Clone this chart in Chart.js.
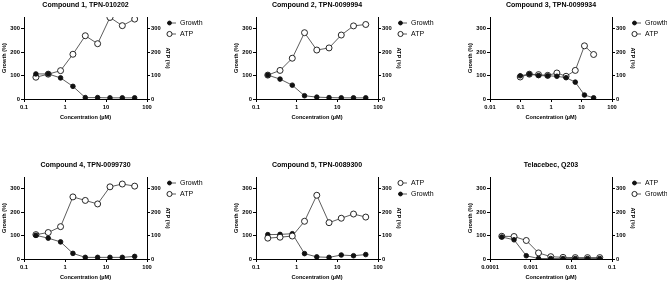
<!DOCTYPE html>
<html>
<head>
<meta charset="utf-8">
<script src="https://cdn.jsdelivr.net/npm/chart.js@4.4.0/dist/chart.umd.min.js"></script>
<style>
  html, body { margin: 0; padding: 0; background: #fff; }
  body { width: 667px; height: 281px; position: relative; overflow: hidden; }
  canvas { position: absolute; }
</style>
</head>
<body>
<canvas id="c1" width="222" height="121" style="left:0;top:0"></canvas>
<canvas id="c2" width="222" height="121" style="left:232px;top:0"></canvas>
<canvas id="c3" width="201" height="121" style="left:466px;top:0"></canvas>
<canvas id="c4" width="222" height="121" style="left:0;top:160px"></canvas>
<canvas id="c5" width="222" height="121" style="left:232px;top:160px"></canvas>
<canvas id="c6" width="201" height="121" style="left:466px;top:160px"></canvas>
<script>
// Concentrations (µM), 2-fold dilution series
const concA = [0.195, 0.39, 0.78, 1.56, 3.125, 6.25, 12.5, 25, 50];
const conc3 = [0.098, 0.195, 0.39, 0.78, 1.56, 3.125, 6.25, 12.5, 25];
const conc6 = [0.000195, 0.00039, 0.00078, 0.00156, 0.003125, 0.00625, 0.0125, 0.025, 0.05];

// Tick labels
const xTicksA = [0.1, 1, 10, 100];
const xTicks3 = [0.01, 0.1, 1, 10, 100];
const xTicks6 = [0.0001, 0.001, 0.01, 0.1];
const yTicks = [0, 100, 200, 300];

// Series values (%)
const growth1 = [107, 107, 90, 54, 6, 6, 5, 5, 5];
const atp1 = [93, 106, 121, 191, 270, 236, 348, 313, 341];
const growth2 = [102, 85, 59, 14, 8, 6, 5, 5, 5];
const atp2 = [102, 122, 174, 283, 209, 218, 273, 312, 318];
const growth3 = [99, 106, 100, 99, 97, 91, 72, 17, 5];
const atp3 = [94, 106, 104, 101, 111, 97, 122, 227, 190];
const growth4 = [101, 89, 73, 24, 7, 7, 7, 7, 11];
const atp4 = [104, 113, 138, 265, 250, 235, 308, 320, 311];
const atp5 = [89, 93, 98, 161, 272, 155, 174, 192, 179];
const growth5 = [104, 105, 108, 23, 9, 7, 17, 14, 19];
const atp6 = [94, 82, 14, 2, 2, 2, 2, 2, 2];
const growth6 = [97, 96, 79, 26, 10, 7, 6, 6, 6];

Chart.defaults.font.family = '"Liberation Sans", Arial, sans-serif';
Chart.defaults.color = '#000';

const panels = [
  { id: 'c1', title: 'Compound 1, TPN-010202', conc: concA, xTicks: xTicksA, padRight: 50,
    series: [{ label: 'Growth', values: growth1, filled: true }, { label: 'ATP', values: atp1, filled: false }] },
  { id: 'c2', title: 'Compound 2, TPN-0099994', conc: concA, xTicks: xTicksA, padRight: 51,
    series: [{ label: 'Growth', values: growth2, filled: true }, { label: 'ATP', values: atp2, filled: false }] },
  { id: 'c3', title: 'Compound 3, TPN-0099934', conc: conc3, xTicks: xTicks3, padRight: 30,
    series: [{ label: 'Growth', values: growth3, filled: true }, { label: 'ATP', values: atp3, filled: false }] },
  { id: 'c4', title: 'Compound 4, TPN-0099730', conc: concA, xTicks: xTicksA, padRight: 50,
    series: [{ label: 'Growth', values: growth4, filled: true }, { label: 'ATP', values: atp4, filled: false }] },
  { id: 'c5', title: 'Compound 5, TPN-0089300', conc: concA, xTicks: xTicksA, padRight: 51,
    series: [{ label: 'ATP', values: atp5, filled: false }, { label: 'Growth', values: growth5, filled: true }] },
  { id: 'c6', title: 'Telacebec, Q203', conc: conc6, xTicks: xTicks6, padRight: 30,
    series: [{ label: 'ATP', values: atp6, filled: true }, { label: 'Growth', values: growth6, filled: false }] }
];

// Legend drawn to the right of the plot, line with marker then label
const panelLegend = {
  id: 'panelLegend',
  afterDraw(chart) {
    const ctx = chart.ctx;
    const x0 = chart.chartArea.right + 20;
    ctx.save();
    ctx.font = '7px "Liberation Sans", Arial, sans-serif';
    ctx.textBaseline = 'middle';
    chart.data.datasets.forEach((ds, i) => {
      const y = 23 + i * 11;
      ctx.strokeStyle = '#333';
      ctx.lineWidth = 0.8;
      ctx.beginPath();
      ctx.moveTo(x0, y);
      ctx.lineTo(x0 + 9, y);
      ctx.stroke();
      ctx.beginPath();
      ctx.arc(x0 + 2.5, y, ds.pointRadius * 0.85, 0, Math.PI * 2);
      ctx.fillStyle = ds.pointBackgroundColor;
      ctx.fill();
      ctx.strokeStyle = '#111';
      ctx.lineWidth = 0.9;
      ctx.stroke();
      ctx.fillStyle = '#000';
      ctx.fillText(ds.label, x0 + 13, y);
    });
    ctx.restore();
  }
};

const tickFont = { size: 5.8, weight: 'bold' };
const axisTitleFont = { size: 5.6, weight: 'bold' };

const yAxis = (position, title, width) => ({
  position: position,
  min: 0,
  max: 350,
  border: { display: true, color: '#000', width: 1 },
  grid: { drawOnChartArea: false, drawTicks: true, tickLength: 3, color: '#000' },
  ticks: { font: tickFont, padding: 1, color: '#000' },
  afterBuildTicks: s => { s.ticks = yTicks.map(v => ({ value: v })); },
  afterFit: s => { s.width = width; },
  title: { display: true, text: title, color: '#000', font: axisTitleFont, padding: { top: 1, bottom: 0 } }
});

const makeChart = (p) => {
  const canvas = document.getElementById(p.id);
  return new Chart(canvas, {
    type: 'line',
    data: {
      datasets: p.series.map(s => ({
        label: s.label,
        data: p.conc.map((c, i) => ({ x: c, y: s.values[i] })),
        borderColor: '#333',
        borderWidth: 0.8,
        pointRadius: s.filled ? 2.3 : 3,
        pointBackgroundColor: s.filled ? '#111' : '#fff',
        pointBorderColor: '#111',
        pointBorderWidth: 0.9,
        tension: 0,
        yAxisID: 'y'
      }))
    },
    options: {
      responsive: false,
      animation: false,
      layout: { padding: { left: 0, right: p.padRight, top: 0, bottom: 0 } },
      plugins: {
        legend: { display: false },
        tooltip: { enabled: false },
        title: {
          display: true,
          text: p.title,
          fullSize: false,
          color: '#000',
          font: { size: 7, weight: 'bold' },
          padding: { top: 0.5, bottom: 8.1 }
        }
      },
      scales: {
        x: {
          type: 'logarithmic',
          min: p.xTicks[0],
          max: p.xTicks[p.xTicks.length - 1],
          border: { display: true, color: '#000', width: 1 },
          grid: { drawOnChartArea: false, drawTicks: true, tickLength: 3, color: '#000' },
          ticks: { font: tickFont, padding: 2, color: '#000', maxRotation: 0, autoSkip: false, callback: v => String(v) },
          afterBuildTicks: s => { s.ticks = p.xTicks.map(v => ({ value: v })); },
          afterFit: s => { s.height = 22; },
          title: { display: true, text: 'Concentration (µM)', color: '#000', font: axisTitleFont, padding: { top: 0, bottom: 0.6 } }
        },
        y: yAxis('left', 'Growth (%)', 24),
        y1: yAxis('right', 'ATP (%)', 25)
      }
    },
    plugins: [panelLegend]
  });
};

panels.forEach(makeChart);
</script>
</body>
</html>
